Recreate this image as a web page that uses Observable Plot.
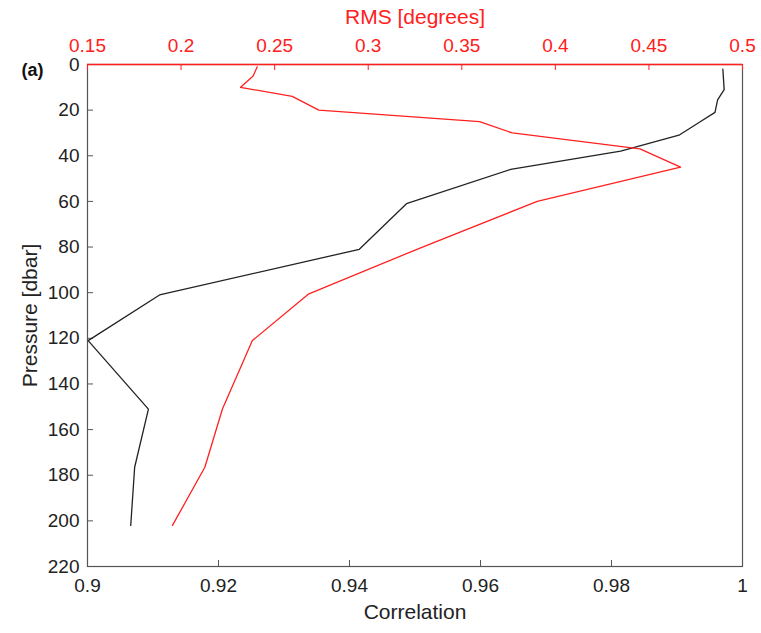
<!DOCTYPE html>
<html><head><meta charset="utf-8">
<script src="https://cdn.jsdelivr.net/npm/d3@7"></script>
<script src="https://cdn.jsdelivr.net/npm/@observablehq/plot@0.6"></script>
<style>
body{margin:0;background:#fff}
#wrap{position:relative;width:761px;height:633px}
#wrap svg{position:absolute;left:0;top:0}
</style>
</head><body><div id="wrap"></div>
<script>
// Correlation profile (black, bottom axis)
const corrPressure = [2, 11, 15.5, 21, 25, 31, 38, 46, 61, 81, 101, 121, 151, 176.5, 202];
const corrValues   = [0.9970, 0.9972, 0.9962, 0.9958, 0.9936, 0.9903, 0.9814, 0.9646, 0.9487, 0.9415, 0.9110, 0.9001, 0.9093, 0.9072, 0.9066];
// RMS profile (red, top axis)
const rmsPressure = [1, 5, 10, 14, 20, 25, 30, 37, 45, 60, 80, 100.5, 121, 151, 176.5, 202];
const rmsValues   = [0.2407, 0.2385, 0.2318, 0.2594, 0.2736, 0.3595, 0.3770, 0.4452, 0.4669, 0.3903, 0.3290, 0.2683, 0.2381, 0.2221, 0.2127, 0.1954];
// Tick labels
const corrTicks = [0.9, 0.92, 0.94, 0.96, 0.98, 1];
const rmsTicks = [0.15, 0.2, 0.25, 0.3, 0.35, 0.4, 0.45, 0.5];
const pressureTicks = [0, 20, 40, 60, 80, 100, 120, 140, 160, 180, 200, 220];

const W = 761, H = 633, mL = 87, mR = 19, mT = 64, mB = 67;
const innerW = W - mL - mR, innerH = H - mT - mB;
const font = "'Liberation Sans', Arial, sans-serif";
const axisGray = "#555";
const red = "#ff2020";

const corrData = corrPressure.map((p, i) => ({p, v: corrValues[i]}));
const rmsData = rmsPressure.map((p, i) => ({p, v: rmsValues[i]}));

const common = {
  width: W, height: H,
  marginLeft: mL, marginRight: mR, marginTop: mT, marginBottom: mB,
  style: {fontFamily: font, background: "transparent", overflow: "visible"}
};

const p1 = Plot.plot({
  ...common,
  x: {domain: [0.9, 1]},
  y: {domain: [0, 220], reverse: true},
  marks: [
    Plot.frame({stroke: axisGray, strokeWidth: 1.2}),
    Plot.tickX(corrTicks, {x: d => d, insetTop: innerH - 6, stroke: axisGray}),
    Plot.tickY(pressureTicks, {y: d => d, insetRight: innerW - 6, stroke: axisGray}),
    Plot.axisX(corrTicks, {anchor: "bottom", tickSize: 0, tickPadding: 12, fontSize: 19, tickFormat: d => String(d), label: null, fill: "#222"}),
    Plot.axisY(pressureTicks, {anchor: "left", tickSize: 0, tickPadding: 8, fontSize: 19, tickFormat: d => String(d), label: null, fill: "#222"}),
    Plot.line(corrData, {x: "v", y: "p", stroke: "#222", strokeWidth: 1.3}),
    Plot.text(["Correlation"], {frameAnchor: "bottom", dy: 46, fontSize: 21, fill: "#222", textAnchor: "middle", lineAnchor: "middle"}),
    Plot.text(["Pressure [dbar]"], {frameAnchor: "left", dx: -57, rotate: -90, fontSize: 21, fill: "#222", textAnchor: "middle", lineAnchor: "middle"}),
    Plot.text(["(a)"], {frameAnchor: "top-left", dx: -55, dy: 6, fontSize: 18, fontWeight: "bold", fill: "#111", textAnchor: "middle", lineAnchor: "middle"})
  ]
});

const p2 = Plot.plot({
  ...common,
  x: {domain: [0.15, 0.5]},
  y: {domain: [0, 220], reverse: true, axis: null},
  marks: [
    Plot.ruleY([0], {stroke: red, strokeWidth: 1.4}),
    Plot.tickX(rmsTicks, {x: d => d, insetBottom: innerH - 6, stroke: red}),
    Plot.axisX(rmsTicks, {anchor: "top", tickSize: 0, tickPadding: 13, fontSize: 19, tickFormat: d => String(d), label: null, fill: red}),
    Plot.line(rmsData, {x: "v", y: "p", stroke: red, strokeWidth: 1.3}),
    Plot.text(["RMS [degrees]"], {frameAnchor: "top", dy: -47, fontSize: 21, fill: red, textAnchor: "middle", lineAnchor: "middle"})
  ]
});

const wrap = document.getElementById("wrap");
wrap.appendChild(p1);
wrap.appendChild(p2);
</script>
</body></html>
